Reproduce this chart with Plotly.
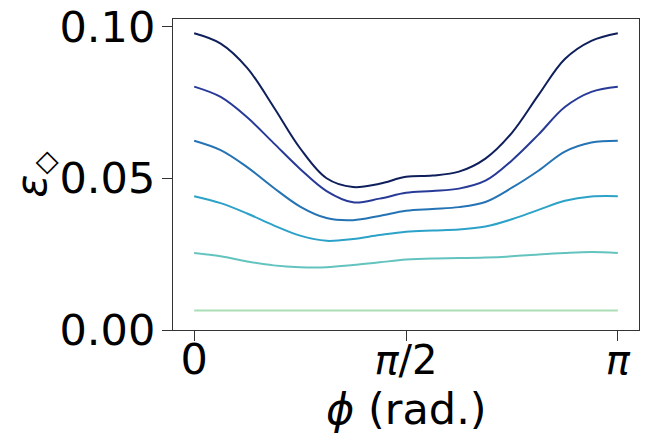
import numpy as np
import plotly.graph_objects as go

# phi samples, every pi/16 from 0 to pi
phi = [i * np.pi / 16 for i in range(17)]

eps_1 = [0.0978, 0.0944, 0.0864, 0.0735, 0.0599, 0.0500, 0.0471, 0.0482, 0.0505,
         0.0509, 0.0522, 0.0565, 0.0650, 0.0774, 0.0893, 0.0953, 0.0978]
eps_2 = [0.0802, 0.0768, 0.0701, 0.0616, 0.0531, 0.0458, 0.0421, 0.0433, 0.0452,
         0.0458, 0.0466, 0.0492, 0.0559, 0.0644, 0.0735, 0.0785, 0.0802]
eps_3 = [0.0624, 0.0593, 0.0537, 0.0469, 0.0407, 0.0369, 0.0362, 0.0376, 0.0393,
         0.0399, 0.0405, 0.0422, 0.0469, 0.0525, 0.0588, 0.0618, 0.0624]
eps_4 = [0.0441, 0.0418, 0.0384, 0.0345, 0.0311, 0.0294, 0.0300, 0.0313, 0.0324,
         0.0328, 0.0331, 0.0341, 0.0365, 0.0396, 0.0426, 0.0440, 0.0441]
eps_5 = [0.0254, 0.0243, 0.0226, 0.0213, 0.0207, 0.0207, 0.0214, 0.0223, 0.0232,
         0.0236, 0.0237, 0.0239, 0.0243, 0.0249, 0.0254, 0.0257, 0.0254]
eps_6 = [0.0064, 0.0064, 0.0064, 0.0064, 0.0064, 0.0064, 0.0064, 0.0064, 0.0064,
         0.0064, 0.0064, 0.0064, 0.0064, 0.0064, 0.0064, 0.0064, 0.0064]

series = [eps_1, eps_2, eps_3, eps_4, eps_5, eps_6]
colors = ['#0e1f5b', '#283a97', '#2473b4', '#2ca2c9', '#63c3bf', '#aadeb6']

x_tickvals = [0, np.pi / 2, np.pi]
x_ticktext = ['0',
              '<span style="font-size:40px"><i>π</i>/2</span>',
              '<span style="font-size:40px"><i>π</i></span>']
y_tickvals = [0.0, 0.05, 0.10]
y_ticktext = ['0.00', '0.05', '0.10']

fig = go.Figure()
for ys, c in zip(series, colors):
    fig.add_trace(go.Scatter(
        x = phi, y = ys,
        mode = 'lines',
        line = dict(color = c, width = 2, shape = 'spline', smoothing = 1.0),
        showlegend = False,
    ))

axis_style = dict(
    showline = True, mirror = True, linecolor = '#333333', linewidth = 1.3,
    ticks = 'outside', ticklen = 10, tickwidth = 1.3, tickcolor = '#333333',
    showgrid = False, zeroline = False, automargin = False,
    ticklabeloverflow = 'allow',
    tickfont = dict(family = 'DejaVu Sans', size = 43, color = 'black'),
)

fig.update_xaxes(range = [-0.05 * np.pi, 1.05 * np.pi],
                 tickvals = x_tickvals, ticktext = x_ticktext,
                 ticklabelstandoff = -19, **axis_style)
fig.update_yaxes(range = [0, 0.1025],
                 tickvals = y_tickvals, ticktext = y_ticktext,
                 ticklabelstandoff = -2, **axis_style)

fig.add_annotation(text = '<i>ϕ</i> (rad.)', xref = 'paper', yref = 'paper',
                   x = 0.5, y = -0.255, xanchor = 'center', yanchor = 'middle',
                   showarrow = False,
                   font = dict(family = 'DejaVu Sans', size = 43, color = 'black'))
fig.add_annotation(text = '<i>ε</i><sub>◇</sub>', xref = 'paper', yref = 'paper',
                   x = -0.30, y = 0.5, xanchor = 'center', yanchor = 'middle',
                   textangle = -90, showarrow = False,
                   font = dict(family = 'DejaVu Sans', size = 43, color = 'black'))

# page body has an 8px margin, so the figure is shrunk by that much
fig.update_layout(
    width = 641, height = 433,
    margin = dict(l = 165, r = 10, t = 11, b = 111),
    plot_bgcolor = 'white', paper_bgcolor = 'white',
)

fig.write_html("out.html")
